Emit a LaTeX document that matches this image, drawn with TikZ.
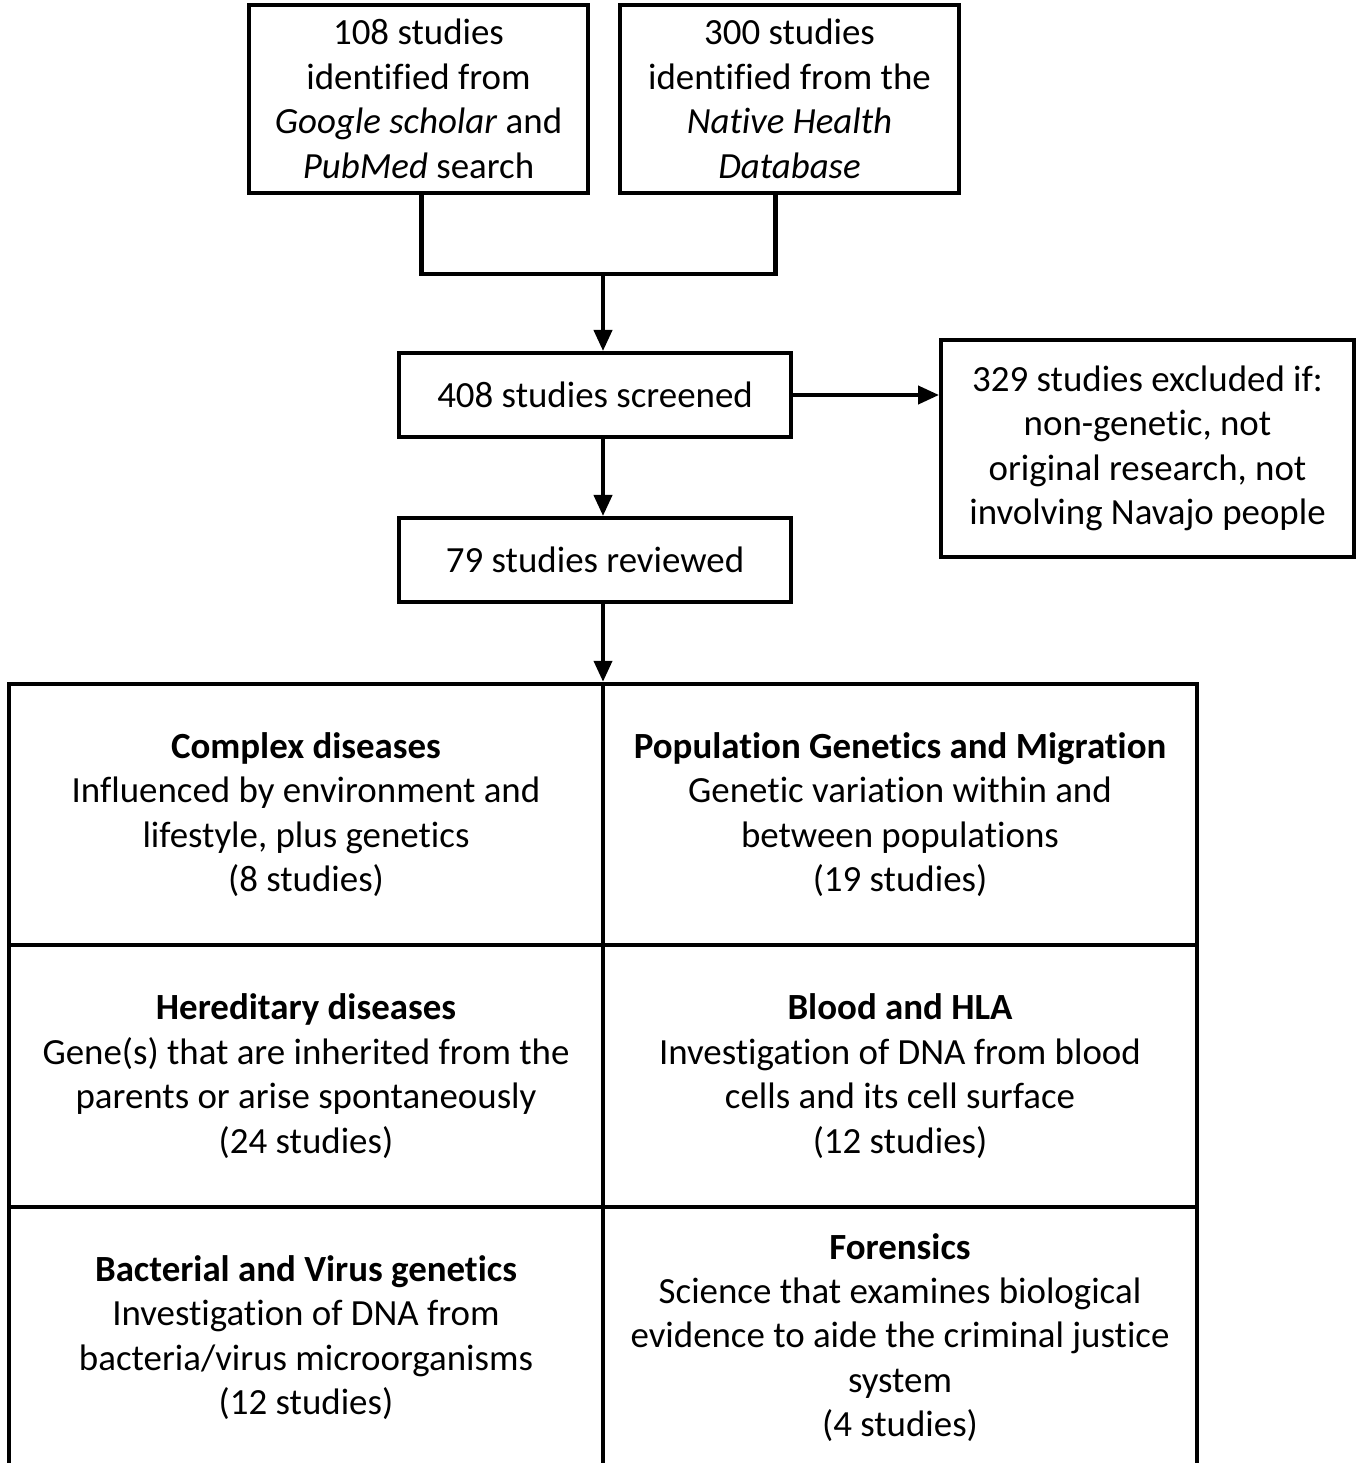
\documentclass[tikz,border=0pt]{standalone}
\usepackage{fontspec}
\setmainfont{Carlito}[Ligatures=NoCommon]
\usepackage{xcolor}
\usetikzlibrary{arrows.meta,positioning}

\begin{document}
\begin{tikzpicture}[
    x=0.02cm, y=-0.02cm,
    box/.style={rectangle, draw, line width=2.3pt, align=center, inner sep=0pt,
        font=\fontsize{21}{25.3}\selectfont},
    cell/.style={box, minimum width=11.88cm, minimum height=5.23cm},
    arrow/.style={->, >={Triangle[length=0.42cm, width=0.36cm]}, line width=2.3pt}
]
    \useasboundingbox (0,0) rectangle (1357,1463);

    % sources
    \node[box, minimum width=6.78cm, minimum height=3.76cm] (scholar) at (418.5,99)
        {108 studies\\identified from\\\textit{Google scholar} and\\\textit{PubMed} search};
    \node[box, minimum width=6.78cm, minimum height=3.76cm] (nhd) at (789.5,99)
        {300 studies\\identified from the\\\textit{Native Health}\\\textit{Database}};

    % screening
    \node[box, minimum width=7.84cm, minimum height=1.68cm] (screened) at (595,395)
        {408 studies screened};
    \node[box, minimum width=8.26cm, minimum height=4.34cm] (excluded) at (1147.5,448.5)
        {329 studies excluded if:\\non-genetic, not\\original research, not\\involving Navajo people};
    \node[box, minimum width=7.84cm, minimum height=1.68cm] (reviewed) at (595,560)
        {79 studies reviewed};

    % categories
    \node[cell] (complex) at (306,814.5)
        {\textbf{Complex diseases}\\Influenced by environment and\\lifestyle, plus genetics\\(8 studies)};
    \node[cell] (popgen) at (900,814.5)
        {\textbf{Population Genetics and Migration}\\Genetic variation within and\\between populations\\(19 studies)};
    \node[cell] (hered) at (306,1076)
        {\textbf{Hereditary diseases}\\Gene(s) that are inherited from the\\parents or arise spontaneously\\(24 studies)};
    \node[cell] (blood) at (900,1076)
        {\textbf{Blood and HLA}\\Investigation of DNA from blood\\cells and its cell surface\\(12 studies)};
    \node[cell] (bact) at (306,1337.5)
        {\textbf{Bacterial and Virus genetics}\\Investigation of DNA from\\bacteria/virus microorganisms\\(12 studies)};
    \node[cell] (foren) at (900,1337.5)
        {\textbf{Forensics}\\Science that examines biological\\evidence to aide the criminal justice\\system\\(4 studies)};

    % connectors
    \coordinate (merge) at (603,274);
    \draw[line width=2.3pt] ([xshift=0.06cm]scholar.south) |- (merge)
        -| ([xshift=-0.28cm]nhd.south);
    \draw[arrow] (merge) -- (merge |- screened.north);
    \draw[arrow] (screened.east) -- (screened.east -| excluded.west);
    \draw[arrow] (merge |- screened.south) -- (merge |- reviewed.north);
    \draw[arrow] (merge |- reviewed.south) -- (merge |- complex.north);
\end{tikzpicture}
\end{document}
